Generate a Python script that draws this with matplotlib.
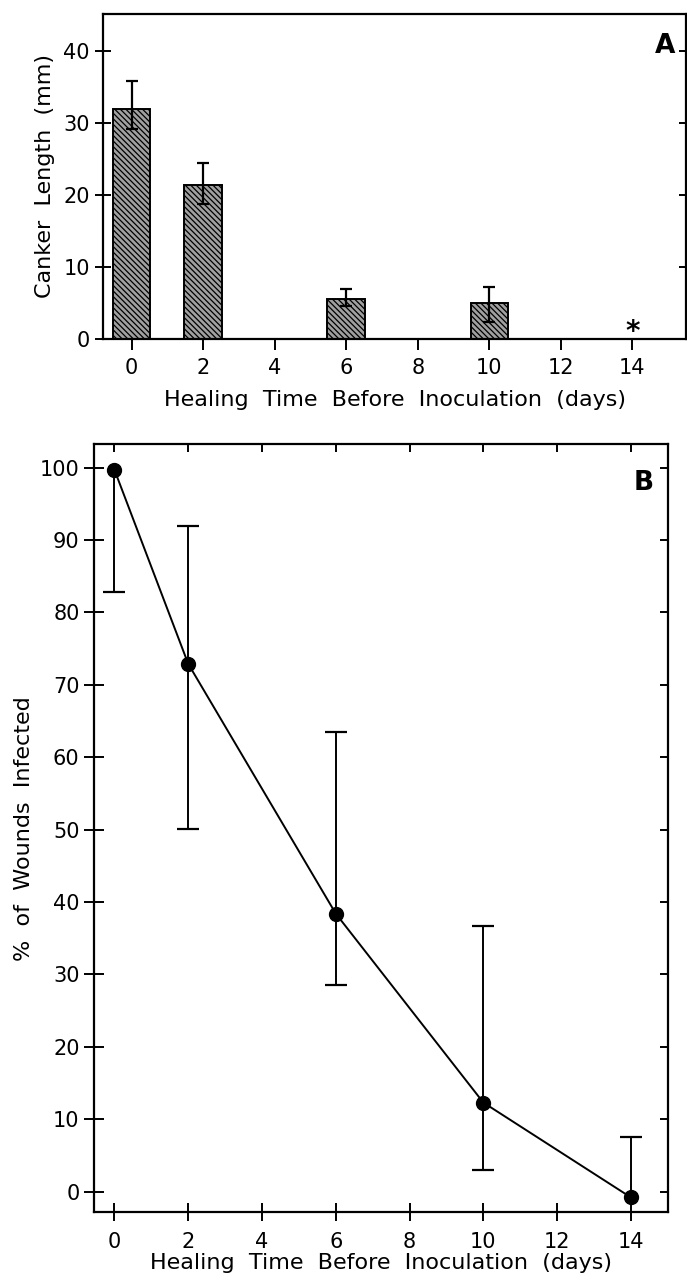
import numpy as np
import matplotlib
matplotlib.use("Agg")
import matplotlib.pyplot as plt

# panel A: canker length (mm) vs healing time
days_a = [0, 2, 6, 10]
canker = [32.0, 21.4, 5.6, 5.0]
canker_lo = [29.1, 18.8, 4.6, 2.3]
canker_hi = [35.9, 24.4, 6.9, 7.2]
star_day, star_y = 14, 1.0

# panel B: % of wounds infected vs healing time
days_b = [0, 2, 6, 10, 14]
infected = [99.7, 72.9, 38.4, 12.3, -0.8]
inf_lo = [82.8, 50.1, 28.5, 3.0, -0.8]
inf_hi = [99.7, 91.9, 63.5, 36.7, 7.6]

xticks = [0, 2, 4, 6, 8, 10, 12, 14]

plt.rcParams['font.family'] = ['DejaVu Sans']
plt.rcParams['hatch.linewidth'] = 0.9

FS = 15
LFS = 16
XLAB = 'Healing  Time  Before  Inoculation  (days)'


def style(ax):
    for s in ax.spines.values():
        s.set_linewidth(1.6)
        s.set_color('black')
    ax.tick_params(labelsize=FS, width=1.4, colors='black')


def main():
    fig = plt.figure(figsize=(6.87, 12.77), dpi=100)
    fig.patch.set_facecolor('white')

    # ---- A ----
    axA = fig.add_axes([0.150, 0.7345, 0.8485, 0.2549])
    style(axA)
    err_a = [np.array(canker) - np.array(canker_lo),
             np.array(canker_hi) - np.array(canker)]
    axA.bar(days_a, canker, width=1.05, color='#a0a0a0', edgecolor='black',
            linewidth=1.4, hatch='\\\\\\\\\\\\', zorder=2)
    axA.errorbar(days_a, canker, yerr=err_a, fmt='none', ecolor='black',
                 elinewidth=1.6, capsize=4.5, capthick=1.6, zorder=3)
    axA.text(star_day, star_y, '*', fontsize=20, fontweight='bold',
             ha='center', va='center')
    axA.set_xlim(-0.8, 15.5)
    axA.set_ylim(0, 45.2)
    axA.set_xticks(xticks)
    axA.set_yticks([0, 10, 20, 30, 40])
    axA.tick_params(axis='y', direction='inout', length=12)
    axA.tick_params(axis='x', direction='out', length=8, pad=6)
    axA.tick_params(axis='y', which='major', right=True, labelright=False)
    for t in axA.yaxis.get_major_ticks():
        t.tick2line.set_markersize(5)
        t.tick2line.set_marker(matplotlib.lines.TICKLEFT)
    axA.set_ylabel('Canker  Length  (mm)', fontsize=LFS, labelpad=6)
    axA.set_xlabel(XLAB, fontsize=LFS, labelpad=8)
    axA.text(0.982, 0.9, 'A', transform=axA.transAxes, fontsize=19,
             fontweight='bold', ha='right', va='center')

    # ---- B ----
    axB = fig.add_axes([0.137, 0.051, 0.835, 0.601])
    style(axB)
    lo_err = np.array(infected) - np.array(inf_lo)
    hi_err = np.array(inf_hi) - np.array(infected)
    _, caps, _ = axB.errorbar(days_b, infected, yerr=[lo_err, hi_err],
                              fmt='none', ecolor='black', elinewidth=1.4,
                              capsize=8, capthick=1.6, zorder=2)
    # one-sided bars: no cap where that side has no error
    caps[0].set_markevery([i for i, e in enumerate(lo_err) if e > 0])
    caps[1].set_markevery([i for i, e in enumerate(hi_err) if e > 0])
    axB.plot(days_b, infected, color='black', linewidth=1.4, marker='o',
             markersize=10, zorder=3)
    axB.set_xlim(-0.55, 15.0)
    axB.set_ylim(-2.8, 103.2)
    axB.set_xticks(xticks)
    axB.set_yticks(np.arange(0, 101, 10))
    axB.tick_params(axis='y', direction='inout', length=14, right=True)
    axB.tick_params(axis='x', direction='inout', length=13, pad=8, top=True)
    for t in axB.yaxis.get_major_ticks():
        t.tick2line.set_markersize(6)
        t.tick2line.set_marker(matplotlib.lines.TICKLEFT)
    for t in axB.xaxis.get_major_ticks():
        t.tick2line.set_markersize(6)
        t.tick2line.set_marker(matplotlib.lines.TICKDOWN)
    axB.set_ylabel('%  of  Wounds  Infected', fontsize=LFS, labelpad=4)
    axB.set_xlabel(XLAB, fontsize=LFS, labelpad=1)
    axB.text(0.975, 0.95, 'B', transform=axB.transAxes, fontsize=19,
             fontweight='bold', ha='right', va='center')

    fig.savefig('out.png', dpi=100)


if __name__ == '__main__':
    main()
